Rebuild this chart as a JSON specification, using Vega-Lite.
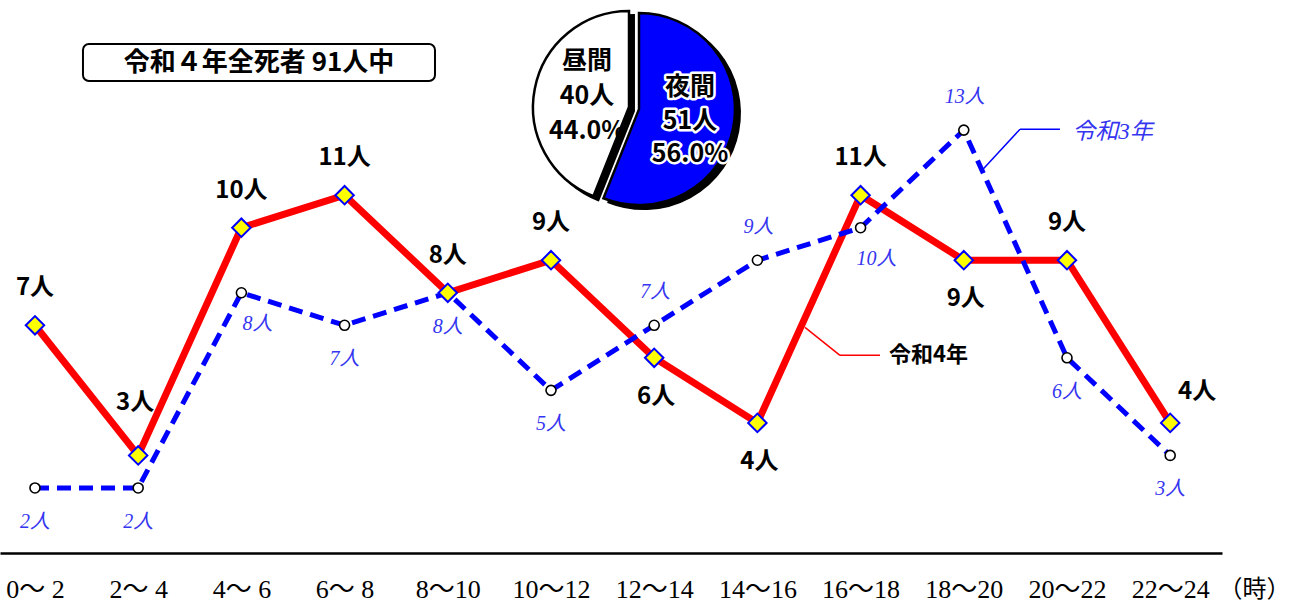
{
  "$schema": "https://vega.github.io/schema/vega-lite/v6.json",
  "width": 1222,
  "height": 553,
  "autosize": {"type": "none"},
  "padding": {"left": 0, "top": 0, "right": 71, "bottom": 49},
  "background": "white",
  "config": {"view": {"stroke": null}, "font": "Noto Sans CJK JP"},
  "datasets": {
    "hours": [
      {"i": 0, "time": "0〜 2", "r4": 7, "r3": 2},
      {"i": 1, "time": "2〜 4", "r4": 3, "r3": 2},
      {"i": 2, "time": "4〜 6", "r4": 10, "r3": 8},
      {"i": 3, "time": "6〜 8", "r4": 11, "r3": 7},
      {"i": 4, "time": "8〜10", "r4": 8, "r3": 8},
      {"i": 5, "time": "10〜12", "r4": 9, "r3": 5},
      {"i": 6, "time": "12〜14", "r4": 6, "r3": 7},
      {"i": 7, "time": "14〜16", "r4": 4, "r3": 9},
      {"i": 8, "time": "16〜18", "r4": 11, "r3": 10},
      {"i": 9, "time": "18〜20", "r4": 9, "r3": 13},
      {"i": 10, "time": "20〜22", "r4": 9, "r3": 6},
      {"i": 11, "time": "22〜24", "r4": 4, "r3": 3}
    ],
    "pie": [
      {"name": "夜間", "count": 51, "order": 1, "label": "夜間\n51人\n56.0%"},
      {"name": "昼間", "count": 40, "order": 2, "label": "昼間\n40人\n44.0%"}
    ],
    "one": [{"k": 1}]
  },
  "layer": [
    {
      "data": {"name": "hours"},
      "mark": {"type": "line", "color": "#ff0000", "strokeWidth": 7},
      "encoding": {
        "x": {
          "field": "i", "type": "quantitative",
          "scale": {"domain": [-0.339, 11.502], "nice": false, "zero": false},
          "axis": {
            "values": [0,1,2,3,4,5,6,7,8,9,10,11],
            "labelExpr": "['0〜 2','2〜 4','4〜 6','6〜 8','8〜10','10〜12','12〜14','14〜16','16〜18','18〜20','20〜22','22〜24'][datum.value]",
            "grid": false, "ticks": false, "tickSize": 0,
            "domainColor": "black", "domainWidth": 2.5,
            "labelFont": "Liberation Serif, Noto Sans CJK JP", "labelFontSize": 26, "labelColor": "black",
            "labelBaseline": "middle", "labelPadding": 36, "labelFlush": false, "labelOverlap": false,
            "title": "（時）", "titleFont": "Noto Sans CJK JP", "titleFontSize": 24, "titleFontWeight": "normal",
            "titleX": 1254, "titleY": 36, "titleAlign": "center", "titleBaseline": "middle", "titleAngle": 0
          }
        },
        "y": {"field": "r4", "type": "quantitative", "scale": {"domain": [0, 17], "nice": false}, "axis": null}
      }
    },
    {
      "data": {"name": "hours"},
      "mark": {"type": "line", "color": "#0000ff", "strokeWidth": 5, "strokeDash": [14, 8]},
      "encoding": {
        "x": {"field": "i", "type": "quantitative"},
        "y": {"field": "r3", "type": "quantitative"}
      }
    },
    {
      "data": {"name": "hours"},
      "mark": {"type": "point", "shape": "circle", "filled": true, "fill": "white", "stroke": "black", "strokeWidth": 1.6, "size": 100, "opacity": 1},
      "encoding": {
        "x": {"field": "i", "type": "quantitative"},
        "y": {"field": "r3", "type": "quantitative"}
      }
    },
    {
      "data": {"name": "hours"},
      "mark": {"type": "point", "shape": "diamond", "filled": true, "fill": "#ffff00", "stroke": "#0000ff", "strokeWidth": 2, "size": 340, "opacity": 1},
      "encoding": {
        "x": {"field": "i", "type": "quantitative"},
        "y": {"field": "r4", "type": "quantitative"}
      }
    },
    {
      "data": {"name": "hours"},
      "transform": [{"calculate": "datum.r4 + '人'", "as": "t"}, {"filter": "indexof([0,2,3,4,5,8,10], datum.i) >= 0"}],
      "mark": {"type": "text", "fontSize": 24, "fontWeight": "bold", "color": "black", "dy": -37, "baseline": "middle"},
      "encoding": {"x": {"field": "i", "type": "quantitative"}, "y": {"field": "r4", "type": "quantitative"}, "text": {"field": "t"}}
    },
    {
      "data": {"name": "hours"},
      "transform": [{"calculate": "datum.r4 + '人'", "as": "t"}, {"filter": "datum.i == 1"}],
      "mark": {"type": "text", "fontSize": 24, "fontWeight": "bold", "color": "black", "dx": -3, "dy": -52, "baseline": "middle"},
      "encoding": {"x": {"field": "i", "type": "quantitative"}, "y": {"field": "r4", "type": "quantitative"}, "text": {"field": "t"}}
    },
    {
      "data": {"name": "hours"},
      "transform": [{"calculate": "datum.r4 + '人'", "as": "t"}, {"filter": "indexof([6,7,9], datum.i) >= 0"}],
      "mark": {"type": "text", "fontSize": 24, "fontWeight": "bold", "color": "black", "dx": 2, "dy": 39, "baseline": "middle"},
      "encoding": {"x": {"field": "i", "type": "quantitative"}, "y": {"field": "r4", "type": "quantitative"}, "text": {"field": "t"}}
    },
    {
      "data": {"name": "hours"},
      "transform": [{"calculate": "datum.r4 + '人'", "as": "t"}, {"filter": "datum.i == 11"}],
      "mark": {"type": "text", "fontSize": 24, "fontWeight": "bold", "color": "black", "dx": 27, "dy": -31, "baseline": "middle"},
      "encoding": {"x": {"field": "i", "type": "quantitative"}, "y": {"field": "r4", "type": "quantitative"}, "text": {"field": "t"}}
    },
    {
      "data": {"name": "hours"},
      "transform": [{"calculate": "datum.r3 + '人'", "as": "t"}, {"filter": "indexof([0,1,3,4,5,10,11], datum.i) >= 0"}],
      "mark": {"type": "text", "font": "Liberation Serif, Noto Sans CJK JP", "fontSize": 20, "fontStyle": "italic", "color": "#3535f0", "dy": 34, "baseline": "middle"},
      "encoding": {"x": {"field": "i", "type": "quantitative"}, "y": {"field": "r3", "type": "quantitative"}, "text": {"field": "t"}}
    },
    {
      "data": {"name": "hours"},
      "transform": [{"calculate": "datum.r3 + '人'", "as": "t"}, {"filter": "indexof([2,8], datum.i) >= 0"}],
      "mark": {"type": "text", "font": "Liberation Serif, Noto Sans CJK JP", "fontSize": 20, "fontStyle": "italic", "color": "#3535f0", "dx": 16, "dy": 31, "baseline": "middle"},
      "encoding": {"x": {"field": "i", "type": "quantitative"}, "y": {"field": "r3", "type": "quantitative"}, "text": {"field": "t"}}
    },
    {
      "data": {"name": "hours"},
      "transform": [{"calculate": "datum.r3 + '人'", "as": "t"}, {"filter": "indexof([6,7,9], datum.i) >= 0"}],
      "mark": {"type": "text", "font": "Liberation Serif, Noto Sans CJK JP", "fontSize": 20, "fontStyle": "italic", "color": "#3535f0", "dx": 1, "dy": -33, "baseline": "middle"},
      "encoding": {"x": {"field": "i", "type": "quantitative"}, "y": {"field": "r3", "type": "quantitative"}, "text": {"field": "t"}}
    },
    {
      "data": {"name": "one"},
      "mark": {"type": "rule", "color": "#ff0000", "strokeWidth": 1.5},
      "encoding": {"x": {"datum": 7.461}, "y": {"datum": 6.938}, "x2": {"datum": 7.8}, "y2": {"datum": 6.077}}
    },
    {
      "data": {"name": "one"},
      "mark": {"type": "rule", "color": "#ff0000", "strokeWidth": 1.5},
      "encoding": {"x": {"datum": 7.8}, "y": {"datum": 6.077}, "x2": {"datum": 8.188}, "y2": {"datum": 6.077}}
    },
    {
      "data": {"name": "one"},
      "mark": {"type": "text", "fontSize": 22, "fontWeight": "bold", "color": "black", "align": "left", "baseline": "middle"},
      "encoding": {"x": {"datum": 8.275}, "y": {"datum": 6.077}, "text": {"value": "令和4年"}}
    },
    {
      "data": {"name": "one"},
      "mark": {"type": "rule", "color": "#0000ff", "strokeWidth": 1.5},
      "encoding": {"x": {"datum": 9.186}, "y": {"datum": 11.8}, "x2": {"datum": 9.545}, "y2": {"datum": 13.03}}
    },
    {
      "data": {"name": "one"},
      "mark": {"type": "rule", "color": "#0000ff", "strokeWidth": 1.5},
      "encoding": {"x": {"datum": 9.545}, "y": {"datum": 13.03}, "x2": {"datum": 9.932}, "y2": {"datum": 13.03}}
    },
    {
      "data": {"name": "one"},
      "mark": {"type": "text", "font": "Liberation Serif, Noto Sans CJK JP", "fontSize": 23, "fontStyle": "italic", "color": "#3535f0", "align": "left", "baseline": "middle"},
      "encoding": {"x": {"datum": 10.05}, "y": {"datum": 12.95}, "text": {"value": "令和3年"}}
    },
    {
      "data": {"name": "one"},
      "mark": {"type": "rect", "fill": "white", "stroke": "black", "strokeWidth": 2, "cornerRadius": 6},
      "encoding": {"x": {"datum": 0.465}, "x2": {"datum": 3.876}, "y": {"datum": 15.646}, "y2": {"datum": 14.508}}
    },
    {
      "data": {"name": "one"},
      "mark": {"type": "text", "fontSize": 26, "fontWeight": "bold", "color": "black", "align": "center", "baseline": "middle"},
      "encoding": {"x": {"datum": 2.171}, "y": {"datum": 15.06}, "text": {"value": "令和４年全死者  91人中"}}
    },
    {
      "data": {"name": "pie"},
      "transform": [{"stack": "count", "groupby": [], "sort": [{"field": "order"}], "as": ["t0", "t1"]}, {"filter": "datum.name == '昼間'"}],
      "mark": {"type": "arc", "radius": 96, "fill": "black", "stroke": "black", "strokeWidth": 2},
      "encoding": {
        "theta": {"field": "t0", "type": "quantitative", "scale": {"domain": [0, 91], "range": [0, 6.283185]}},
        "theta2": {"field": "t1"},
        "x": {"datum": 5.804}, "y": {"datum": 13.585}
      }
    },
    {
      "data": {"name": "pie"},
      "transform": [{"stack": "count", "groupby": [], "sort": [{"field": "order"}], "as": ["t0", "t1"]}, {"filter": "datum.name == '昼間'"}],
      "mark": {"type": "arc", "radius": 96, "fill": "white", "stroke": "black", "strokeWidth": 2.5},
      "encoding": {
        "theta": {"field": "t0", "type": "quantitative"},
        "theta2": {"field": "t1"},
        "x": {"datum": 5.756}, "y": {"datum": 13.708}
      }
    },
    {
      "data": {"name": "pie"},
      "transform": [{"stack": "count", "groupby": [], "sort": [{"field": "order"}], "as": ["t0", "t1"]}, {"filter": "datum.name == '夜間'"}],
      "mark": {"type": "arc", "radius": 96, "fill": "black", "stroke": "black", "strokeWidth": 2},
      "encoding": {
        "theta": {"field": "t0", "type": "quantitative"},
        "theta2": {"field": "t1"},
        "x": {"datum": 5.901}, "y": {"datum": 13.523}
      }
    },
    {
      "data": {"name": "pie"},
      "transform": [{"stack": "count", "groupby": [], "sort": [{"field": "order"}], "as": ["t0", "t1"]}, {"filter": "datum.name == '夜間'"}],
      "mark": {"type": "arc", "radius": 96, "fill": "#0000ff", "stroke": "black", "strokeWidth": 2.5},
      "encoding": {
        "theta": {"field": "t0", "type": "quantitative"},
        "theta2": {"field": "t1"},
        "x": {"datum": 5.853}, "y": {"datum": 13.646}
      }
    },
    {
      "data": {"name": "pie"},
      "transform": [{"filter": "datum.name == '昼間'"}],
      "mark": {"type": "text", "fontSize": 25, "fontWeight": "bold", "color": "black", "lineBreak": "\n", "lineHeight": 35, "align": "center", "baseline": "middle"},
      "encoding": {"x": {"datum": 5.35}, "y": {"datum": 15.12}, "text": {"field": "label"}}
    },
    {
      "data": {"name": "pie"},
      "transform": [{"filter": "datum.name == '夜間'"}],
      "mark": {"type": "text", "fontSize": 25, "fontWeight": "bold", "color": "white", "stroke": "white", "strokeWidth": 5, "strokeJoin": "round", "lineBreak": "\n", "lineHeight": 33.5, "align": "center", "baseline": "middle"},
      "encoding": {"x": {"datum": 6.347}, "y": {"datum": 14.32}, "text": {"field": "label"}}
    },
    {
      "data": {"name": "pie"},
      "transform": [{"filter": "datum.name == '夜間'"}],
      "mark": {"type": "text", "fontSize": 25, "fontWeight": "bold", "color": "black", "lineBreak": "\n", "lineHeight": 33.5, "align": "center", "baseline": "middle"},
      "encoding": {"x": {"datum": 6.347}, "y": {"datum": 14.32}, "text": {"field": "label"}}
    }
  ]
}
